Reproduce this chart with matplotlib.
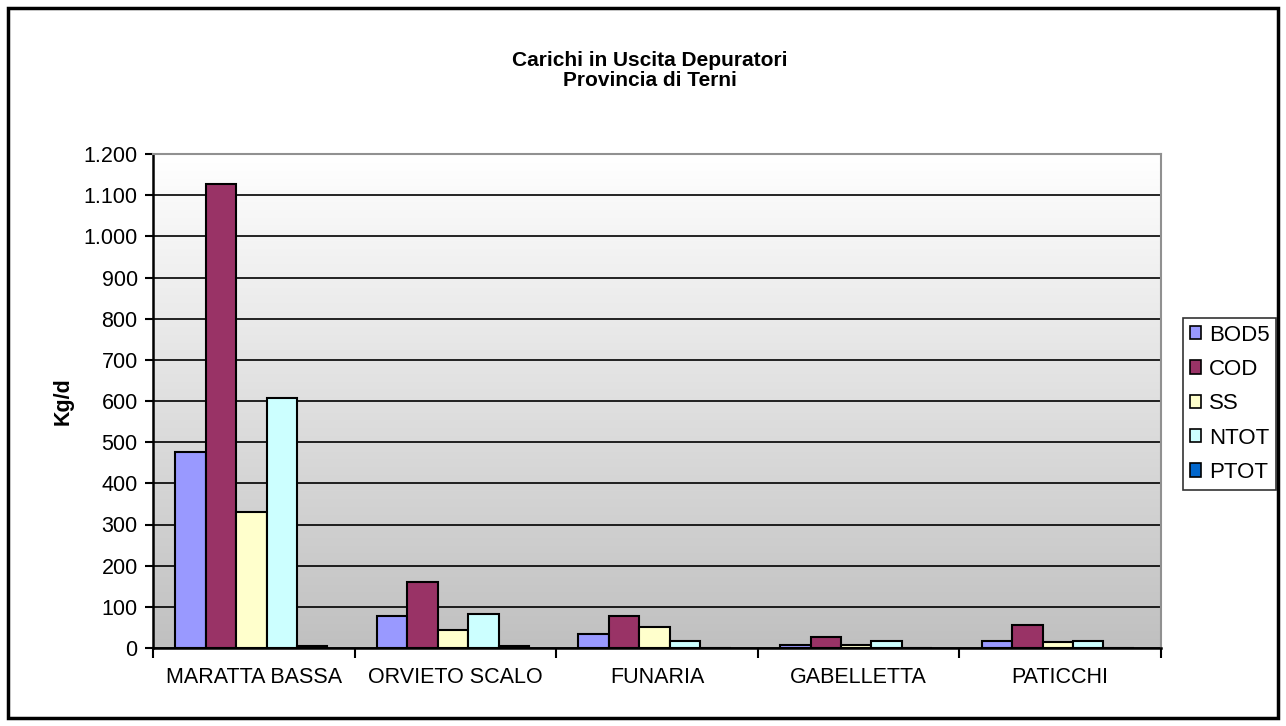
import matplotlib.pyplot as plt
import numpy as np
from matplotlib.patches import Patch, Rectangle
from matplotlib.ticker import FuncFormatter

plt.rcParams['font.family'] = ['Liberation Sans', 'DejaVu Sans']

# dati (Kg/d)
impianti = ['MARATTA BASSA', 'ORVIETO SCALO', 'FUNARIA', 'GABELLETTA', 'PATICCHI']
parametri = ['BOD5', 'COD', 'SS', 'NTOT', 'PTOT']
bod5 = [476, 78, 33, 8, 18]
cod = [1127, 160, 77, 27, 57]
ss = [330, 43, 52, 8, 14]
ntot = [607, 82, 18, 18, 18]
ptot = [4, 4, 1, 0, 0]
colori = ['#9999FF', '#993366', '#FFFFCC', '#CCFFFF', '#0066CC']

serie = [bod5, cod, ss, ntot, ptot]

fig = plt.figure(figsize=(12.86, 7.26), dpi=100)
ax = fig.add_axes([153 / 1286, 1 - 648 / 726, (1161 - 153) / 1286, (648 - 154) / 726])

# sfondo sfumato bianco -> grigio
grad = np.linspace(1.0, 0.753, 256).reshape(-1, 1)
ax.imshow(np.dstack([grad, grad, grad]), extent=[-0.5, 4.5, 0, 1200],
          aspect='auto', origin='upper', zorder=0)

x = np.arange(len(impianti))
w = 0.151
for j, (vals, col) in enumerate(zip(serie, colori)):
    ax.bar(x + (j - 2) * w - 0.012, vals, width=w, color=col, edgecolor='black',
           linewidth=1.5, zorder=3, label=parametri[j])

ax.set_xlim(-0.5, 4.5)
ax.set_ylim(0, 1200)
ax.set_yticks(np.arange(0, 1201, 100))
ax.yaxis.set_major_formatter(FuncFormatter(lambda v, p: f'{int(v):,}'.replace(',', '.')))
ax.grid(axis='y', color='black', linewidth=1.2, zorder=1)
ax.set_axisbelow(True)

ax.set_xticks(x)
ax.set_xticklabels(impianti)
ax.set_xticks(np.arange(-0.5, 4.6, 1), minor=True)
ax.tick_params(axis='x', which='major', length=0, pad=14, labelsize=15.5)
ax.tick_params(axis='x', which='minor', length=7, width=1.5, direction='out')
ax.tick_params(axis='y', length=6, width=1.5, labelsize=15.5, pad=5)

for s in ['left', 'bottom']:
    ax.spines[s].set_linewidth(1.8)
    ax.spines[s].set_color('black')
for s in ['top', 'right']:
    ax.spines[s].set_linewidth(1.5)
    ax.spines[s].set_color('#909090')

ax.set_ylabel('Kg/d', fontsize=15.5, fontweight='bold', labelpad=7)

fig.text(650 / 1286, 1 - 60 / 726, 'Carichi in Uscita Depuratori', ha='center', va='center',
         fontsize=15, fontweight='bold')
fig.text(650 / 1286, 1 - 81 / 726, 'Provincia di Terni', ha='center', va='center',
         fontsize=15, fontweight='bold')

handles = [Patch(facecolor=c, edgecolor='black', linewidth=1.2) for c in colori]
leg = fig.legend(handles, parametri, loc='upper left',
                 bbox_to_anchor=(1183 / 1286, 1 - 318 / 726), fontsize=16,
                 frameon=True, fancybox=False, handlelength=0.5, handleheight=0.55,
                 handletextpad=0.36, labelspacing=0.6, borderpad=0.3, borderaxespad=0)
leg.get_frame().set_edgecolor('black')
leg.get_frame().set_linewidth(1.2)

# cornice esterna
fig.patches.append(Rectangle((8 / 1286, 8 / 726), 1270 / 1286, 710 / 726,
                             transform=fig.transFigure, fill=False,
                             edgecolor='black', linewidth=2.5))

fig.savefig('out.png', dpi=100)
